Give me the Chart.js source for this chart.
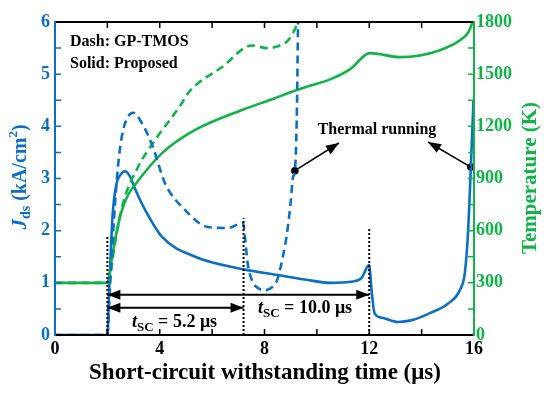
<!DOCTYPE html>
<html>
<head>
<meta charset="utf-8">
<script src="https://cdn.jsdelivr.net/npm/chart.js@4.4.0/dist/chart.umd.min.js"></script>
<style>
  html, body { margin: 0; padding: 0; background: #fff; }
  #wrap { width: 550px; height: 393px; }
</style>
</head>
<body>
<div id="wrap"><canvas id="c"></canvas></div>
<script>
// --- Data (x in µs) ---
// Jds, proposed (solid blue), kA/cm2
const propJx = [0, 2.0, 2.08, 2.2, 2.35, 2.5, 2.67, 2.85, 3.1, 3.44, 4.09, 5.35, 7.18, 8.5, 9.6, 10.5, 11.3, 11.7, 11.99, 12.1, 12.2, 12.5, 13.1, 13.67, 14.32, 15.0, 15.46, 15.65, 15.77, 15.88, 15.98];
const propJy = [0, 0, 1.0, 2.3, 2.9, 3.07, 3.14, 3.05, 2.75, 2.4, 1.88, 1.5, 1.26, 1.15, 1.06, 1.0, 1.02, 1.09, 1.34, 0.8, 0.42, 0.33, 0.25, 0.29, 0.42, 0.6, 0.86, 1.19, 1.95, 3.22, 4.5];
// Jds, GP-TMOS (dashed blue)
const gpJx = [0, 2.0, 2.1, 2.25, 2.4, 2.55, 2.75, 2.98, 3.32, 3.74, 4.2, 4.96, 5.84, 6.6, 7.18, 7.25, 7.35, 7.52, 7.75, 8.02, 8.3, 8.48, 8.7, 8.86, 9.0, 9.09, 9.16, 9.24, 9.28];
const gpJy = [0, 0, 0.9, 2.2, 3.2, 3.8, 4.15, 4.26, 4.06, 3.6, 2.91, 2.4, 2.07, 2.05, 2.15, 1.9, 1.4, 1.05, 0.9, 0.86, 0.92, 1.05, 1.5, 1.95, 2.55, 3.03, 3.15, 4.37, 6.0];
// Temperature, proposed (solid green), K
const propTx = [0, 2.0, 2.18, 2.37, 2.56, 2.79, 3.05, 4.09, 5.35, 7.14, 8.4, 8.97, 9.73, 10.5, 11.26, 12.03, 13.17, 14.7, 15.58, 15.8, 15.95];
const propTy = [300, 300, 449, 604, 719, 805, 863, 1046, 1179, 1294, 1362, 1395, 1433, 1470, 1528, 1621, 1598, 1638, 1708, 1745, 1800];
// Temperature, GP-TMOS (dashed green)
const gpTx = [0, 2.0, 2.1, 2.29, 2.6, 3.17, 3.82, 4.85, 5.08, 6.38, 7.52, 8.1, 8.5, 8.9, 9.15, 9.28];
const gpTy = [300, 300, 340, 529, 759, 966, 1121, 1334, 1391, 1541, 1665, 1650, 1660, 1695, 1755, 1800];
// markers
const dotX = [9.16, 15.88];
const dotY = [3.15, 3.22];
const scStart = 2.0;
const scEndGP = 7.2;
const scEndProp = 12.0;
const markTop = [1.88, 2.24, 2.05];

const xTicks = [0, 4, 8, 12, 16];

const BLUE = "#0b6fc4";
const GREEN = "#10b347";
const SERIF = '"Liberation Serif", "Times New Roman", serif';

const pts = (xs, ys) => xs.map((x, i) => ({ x, y: ys[i] }));

function curve(label, data, color, axis, dashed) {
  return {
    label, data, yAxisID: axis,
    borderColor: color, borderWidth: 2.6,
    borderDash: dashed ? [8, 5] : [],
    pointRadius: 0, fill: false,
    cubicInterpolationMode: "monotone",
  };
}

function vline(x, top) {
  return {
    data: [{ x, y: 0 }, { x, y: top }], yAxisID: "y",
    borderColor: "#000", borderWidth: 2, borderDash: [2, 2],
    pointRadius: 0, fill: false,
  };
}

// --- rich text helper ---
function richWidth(ctx, parts) {
  let w = 0;
  parts.forEach((p) => { ctx.font = p.font; w += ctx.measureText(p.t).width; });
  return w;
}
function drawRich(ctx, parts, x, y) {
  parts.forEach((p) => {
    ctx.font = p.font;
    ctx.fillText(p.t, x, y + (p.dy || 0));
    x += ctx.measureText(p.t).width;
  });
}

function arrowHead(ctx, x1, y1, x2, y2, len, half) {
  const a = Math.atan2(y2 - y1, x2 - x1);
  ctx.beginPath();
  ctx.moveTo(x2, y2);
  ctx.lineTo(x2 - len * Math.cos(a) + half * Math.sin(a), y2 - len * Math.sin(a) - half * Math.cos(a));
  ctx.lineTo(x2 - len * Math.cos(a) - half * Math.sin(a), y2 - len * Math.sin(a) + half * Math.cos(a));
  ctx.closePath();
  ctx.fill();
}

function arrowLine(ctx, x1, y1, x2, y2, both) {
  ctx.beginPath();
  ctx.moveTo(x1, y1);
  ctx.lineTo(x2, y2);
  ctx.stroke();
  arrowHead(ctx, x1, y1, x2, y2, 13, 5);
  if (both) arrowHead(ctx, x2, y2, x1, y1, 13, 5);
}

// --- frame, inward ticks, titles, annotations ---
const overlay = {
  id: "overlay",
  afterDraw(chart) {
    const ctx = chart.ctx;
    const { left, right, top, bottom } = chart.chartArea;
    const sx = chart.scales.x, sy = chart.scales.y, sy1 = chart.scales.y1;
    ctx.save();

    // frame
    ctx.lineWidth = 2;
    ctx.strokeStyle = "#000";
    ctx.beginPath();
    ctx.moveTo(left, top); ctx.lineTo(right, top);
    ctx.moveTo(left, bottom); ctx.lineTo(right, bottom);
    ctx.stroke();
    ctx.strokeStyle = BLUE;
    ctx.beginPath(); ctx.moveTo(left, top - 1); ctx.lineTo(left, bottom + 1); ctx.stroke();
    ctx.strokeStyle = GREEN;
    ctx.beginPath(); ctx.moveTo(right, top - 1); ctx.lineTo(right, bottom + 1); ctx.stroke();

    // ticks
    ctx.lineWidth = 1.5;
    ctx.strokeStyle = "#000";
    ctx.beginPath();
    for (let v = 2; v < 16; v += 2) {
      const px = sx.getPixelForValue(v);
      ctx.moveTo(px, bottom); ctx.lineTo(px, bottom - 6);
      ctx.moveTo(px, top); ctx.lineTo(px, top + 6);
    }
    ctx.stroke();
    ctx.strokeStyle = BLUE;
    ctx.beginPath();
    for (let v = 0.5; v < 6; v += 0.5) {
      const py = sy.getPixelForValue(v);
      ctx.moveTo(left, py); ctx.lineTo(left + 6, py);
    }
    ctx.stroke();
    ctx.strokeStyle = GREEN;
    ctx.beginPath();
    for (let v = 150; v < 1800; v += 150) {
      const py = sy1.getPixelForValue(v);
      ctx.moveTo(right, py); ctx.lineTo(right - 6, py);
    }
    ctx.stroke();

    // axis titles
    ctx.textBaseline = "middle";
    ctx.fillStyle = "#000";
    ctx.font = "bold 23px " + SERIF;
    ctx.textAlign = "center";
    ctx.fillText("Short-circuit withstanding time (\u03bcs)", 265, 373);

    ctx.textAlign = "left";
    const jParts = [
      { t: "J", font: "italic bold 21px " + SERIF },
      { t: "ds", font: "bold 14px " + SERIF, dy: 5 },
      { t: " (kA/cm", font: "bold 20px " + SERIF },
      { t: "2", font: "bold 13px " + SERIF, dy: -7 },
      { t: ")", font: "bold 20px " + SERIF },
    ];
    ctx.save();
    ctx.translate(21, 177);
    ctx.rotate(-Math.PI / 2);
    ctx.fillStyle = BLUE;
    drawRich(ctx, jParts, -richWidth(ctx, jParts) / 2, 0);
    ctx.restore();

    ctx.save();
    ctx.translate(531, 178);
    ctx.rotate(-Math.PI / 2);
    ctx.fillStyle = GREEN;
    ctx.textAlign = "center";
    ctx.font = "bold 21px " + SERIF;
    ctx.fillText("Temperature (K)", 0, 0);
    ctx.restore();

    // legend notes
    ctx.fillStyle = "#000";
    ctx.textAlign = "left";
    ctx.font = "bold 16px " + SERIF;
    ctx.fillText("Dash: GP-TMOS", 70, 42);
    ctx.fillText("Solid: Proposed", 70, 64);

    // tSC arrows
    ctx.strokeStyle = "#000";
    ctx.fillStyle = "#000";
    ctx.lineWidth = 2;
    const xs = sx.getPixelForValue(scStart);
    arrowLine(ctx, sx.getPixelForValue(scEndProp), sy.getPixelForValue(0.77), xs, sy.getPixelForValue(0.77), true);
    arrowLine(ctx, sx.getPixelForValue(scEndGP), sy.getPixelForValue(0.52), xs, sy.getPixelForValue(0.52), true);

    ctx.textBaseline = "alphabetic";
    const t1 = [
      { t: "t", font: "italic bold 18px " + SERIF },
      { t: "SC", font: "bold 13px " + SERIF, dy: 4 },
      { t: " = 5.2 \u03bcs", font: "bold 18px " + SERIF },
    ];
    drawRich(ctx, t1, 132, 327);
    const t2 = [
      { t: "t", font: "italic bold 18px " + SERIF },
      { t: "SC", font: "bold 13px " + SERIF, dy: 4 },
      { t: " = 10.0 \u03bcs", font: "bold 18px " + SERIF },
    ];
    drawRich(ctx, t2, 258, 313);

    // thermal running
    ctx.textBaseline = "middle";
    ctx.textAlign = "center";
    ctx.font = "bold 16px " + SERIF;
    ctx.fillText("Thermal running", 377, 130);
    ctx.lineWidth = 1.5;
    const d1 = { x: sx.getPixelForValue(dotX[0]), y: sy.getPixelForValue(dotY[0]) };
    const d2 = { x: sx.getPixelForValue(dotX[1]), y: sy.getPixelForValue(dotY[1]) };
    arrowLine(ctx, d1.x, d1.y, 339, 143, false);
    arrowLine(ctx, d2.x, d2.y, 428, 142, false);

    ctx.restore();
  },
};

const tickFont = { family: SERIF, size: 18, weight: "bold" };

new Chart(document.getElementById("c"), {
  type: "line",
  data: {
    datasets: [
      vline(scStart, markTop[0]),
      vline(scEndGP, markTop[1]),
      vline(scEndProp, markTop[2]),
      curve("Jds GP-TMOS", pts(gpJx, gpJy), BLUE, "y", true),
      curve("T GP-TMOS", pts(gpTx, gpTy), GREEN, "y1", true),
      curve("T Proposed", pts(propTx, propTy), GREEN, "y1", false),
      curve("Jds Proposed", pts(propJx, propJy), BLUE, "y", false),
      {
        type: "scatter", data: pts(dotX, dotY), yAxisID: "y",
        pointRadius: 3.8, pointBackgroundColor: "#000", pointBorderWidth: 0,
      },
    ],
  },
  options: {
    responsive: true,
    maintainAspectRatio: false,
    animation: false,
    layout: { padding: { top: 22, left: 0, right: 0, bottom: 0 } },
    plugins: { legend: { display: false }, tooltip: { enabled: false } },
    scales: {
      x: {
        type: "linear", min: 0, max: 16,
        afterFit: (s) => { s.height = 58; },
        afterBuildTicks: (s) => { s.ticks = xTicks.map((v) => ({ value: v })); },
        grid: { display: false, drawTicks: false },
        border: { display: false },
        ticks: { color: "#000", padding: 4, maxRotation: 0, font: tickFont, callback: (v) => String(v) },
      },
      y: {
        position: "left", min: 0, max: 6,
        afterFit: (s) => { s.width = 55; },
        grid: { display: false, drawTicks: false },
        border: { display: false },
        ticks: { stepSize: 1, color: BLUE, padding: 5, font: tickFont, callback: (v) => String(v) },
      },
      y1: {
        position: "right", min: 0, max: 1800,
        afterFit: (s) => { s.width = 76; },
        grid: { display: false, drawTicks: false },
        border: { display: false },
        ticks: { stepSize: 300, color: GREEN, padding: 2, font: tickFont, callback: (v) => String(v) },
      },
    },
  },
  plugins: [overlay],
});
</script>
</body>
</html>
